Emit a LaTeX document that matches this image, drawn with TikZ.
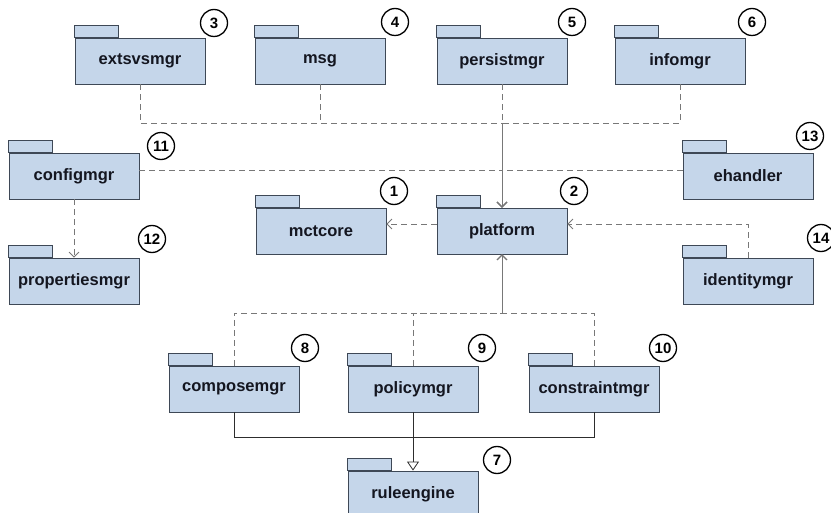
\documentclass[tikz,border=0pt]{standalone}
\usepackage{fontspec}
\setmainfont{Liberation Sans}
\usetikzlibrary{arrows.meta,calc}

\definecolor{pkgfill}{RGB}{197,214,234}
\definecolor{pkgline}{RGB}{62,72,86}
\definecolor{depline}{RGB}{120,120,120}
\definecolor{genline}{RGB}{45,45,45}
\definecolor{pkgtext}{RGB}{20,22,32}

\tikzset{
  pkgbox/.style={draw=pkgline, fill=pkgfill, line width=0.8pt,
    minimum width=130pt, minimum height=46pt, inner sep=0pt,
    text=pkgtext, font=\bfseries\fontsize{16.5}{18}\selectfont},
  pkgtab/.style={draw=pkgline, fill=pkgfill, line width=0.8pt},
  badge/.style={circle, draw=black, fill=white, line width=1.3pt,
    minimum size=27pt, inner sep=0pt,
    font=\bfseries\fontsize{15}{16}\selectfont},
  dep/.style={draw=depline, line width=0.9pt, dash pattern=on 6pt off 4pt,
    -{Straight Barb[length=5pt,width=10pt,line width=0.8pt]}},
  depline/.style={draw=depline, line width=0.9pt, dash pattern=on 6pt off 4pt},
  gen/.style={draw=genline, line width=0.8pt,
    -{Triangle[open, length=9pt, width=12pt, fill=white]}},
  genline/.style={draw=genline, line width=0.8pt},
}

% package: body node plus its tab on the upper left corner
\newcommand{\pkgnode}[3]{%
  \node[pkgbox] (#1) at (#2) {#3};
  \draw[pkgtab] (#1.north west) rectangle ++(44,-12);
}

\begin{document}
\begin{tikzpicture}[x=1pt, y=-1pt]
\useasboundingbox (0,0) rectangle (831,513);

% packages
\pkgnode{ext}{140,61}{extsvsmgr}
\pkgnode{msg}{320,61}{msg}
\pkgnode{persist}{502,61}{persistmgr}
\pkgnode{info}{680,61}{infomgr}
\pkgnode{config}{74,176}{configmgr}
\pkgnode{ehandler}{748,176}{ehandler}
\pkgnode{mct}{321,231}{mctcore}
\pkgnode{plat}{502,231}{platform}
\pkgnode{props}{74,281}{propertiesmgr}
\pkgnode{ident}{748,281}{identitymgr}
\pkgnode{compose}{234,389}{composemgr}
\pkgnode{policy}{413,389}{policymgr}
\pkgnode{constr}{594,389}{constraintmgr}
\pkgnode{rule}{413,494}{ruleengine}

% junction points of the shared connector trunks
\coordinate (jtop) at (502,123);
\coordinate (jmid) at (502,170);
\coordinate (jlow) at (502,313);
\coordinate (jgen) at (413,437);
\coordinate (jid) at (748,224);

% dependencies from the upper packages into platform
\draw[dep] (ext.south) |- (jtop) -- (plat.north);
\draw[dep] (msg.south) |- (jtop) -- (plat.north);
\draw[dep] (persist.south) -- (plat.north);
\draw[dep] (info.south) |- (jtop) -- (plat.north);
\draw[dep] (config.east |- jmid) -- (jmid) -- (plat.north);
\draw[depline] (ehandler.west |- jmid) -- (jmid);

% platform, identitymgr, configmgr dependencies
\draw[dep] (plat.west |- jid) -- (mct.east |- jid);
\draw[dep] (ident.north) |- (plat.east |- jid);
\draw[dep] (config.south) -- (props.north);

% lower packages depend on platform
\draw[dep] (compose.north) |- (jlow) -- (plat.south);
\draw[dep] (policy.north) |- (jlow) -- (plat.south);
\draw[dep] (constr.north) |- (jlow) -- (plat.south);

% generalization into ruleengine
\draw[genline] (compose.south) |- (jgen);
\draw[genline] (constr.south) |- (jgen);
\draw[gen] (policy.south) -- (rule.north);

% numbered badges
\node[badge] (b1) at (394,191) {1};
\node[badge] (b2) at (574,191) {2};
\node[badge] (b3) at (214,23) {3};
\node[badge] (b4) at (395,22) {4};
\node[badge] (b5) at (572,22) {5};
\node[badge] (b6) at (752,22) {6};
\node[badge] (b7) at (497,460) {7};
\node[badge] (b8) at (305,348) {8};
\node[badge] (b9) at (482,348) {9};
\node[badge] (b10) at (663,348) {10};
\node[badge] (b11) at (161,146) {11};
\node[badge] (b12) at (152,239) {12};
\node[badge] (b13) at (810,136) {13};
\node[badge] (b14) at (821,238) {14};
\end{tikzpicture}
\end{document}
